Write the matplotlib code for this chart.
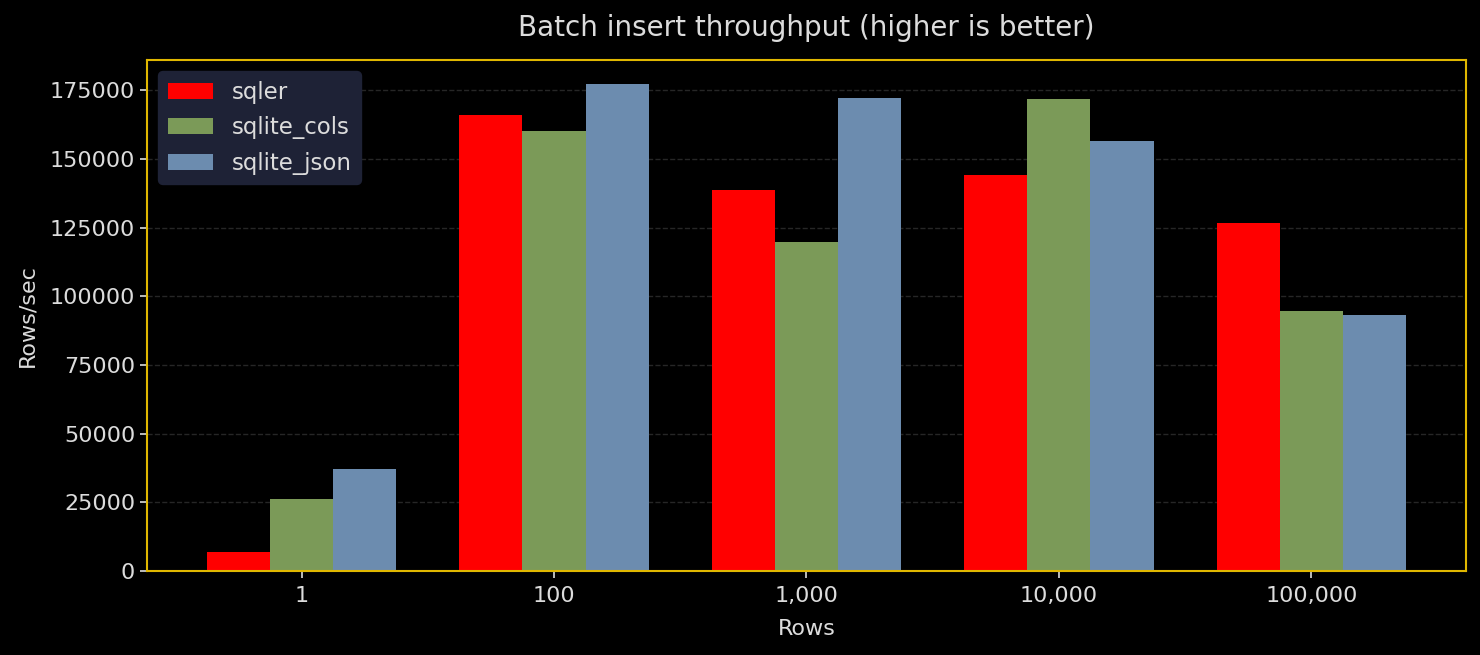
import matplotlib
matplotlib.use("Agg")
import matplotlib.pyplot as plt
import numpy as np

# batch sizes and measured throughput (rows/sec)
rows = ["1", "100", "1,000", "10,000", "100,000"]
series = ["sqler", "sqlite_cols", "sqlite_json"]
sqler = [7000, 165900, 138600, 144100, 126600]
sqlite_cols = [26200, 160100, 119700, 171700, 94600]
sqlite_json = [37100, 177200, 172100, 156400, 93100]
colors = ["#ff0000", "#7b9a58", "#6c8caf"]

txt = "#dcdcdc"
gold = "#e0b700"

fig, ax = plt.subplots(figsize=(14.8, 6.55), dpi=100)
fig.patch.set_facecolor("black")
ax.set_facecolor("black")

x = np.arange(len(rows))
w = 0.25
for i, (name, vals) in enumerate(zip(series, [sqler, sqlite_cols, sqlite_json])):
    ax.bar(x + (i - 1) * w, vals, w, label=name, color=colors[i], zorder=2)

ax.set_xticks(x)
ax.set_xticklabels(rows)
ax.tick_params(colors=txt, labelsize=16, length=5, width=1.2)
ax.tick_params(axis="x", pad=6)
ax.grid(axis="y", linestyle="--", color="#262626", linewidth=1, zorder=0)
for s in ax.spines.values():
    s.set_color(gold)
    s.set_linewidth(1.5)

ax.set_title("Batch insert throughput (higher is better)", color=txt, fontsize=20, pad=17)
ax.set_xlabel("Rows", color=txt, fontsize=16, labelpad=9)
ax.set_ylabel("Rows/sec", color=txt, fontsize=16, labelpad=9)

leg = ax.legend(loc="upper left", fontsize=16.5, facecolor="#1e2236", edgecolor="#1e2236",
                framealpha=1, labelcolor=txt, labelspacing=0.55)

plt.subplots_adjust(left=0.0993, right=0.9905, top=0.9084, bottom=0.1282)
plt.savefig("out.png", dpi=100, facecolor=fig.get_facecolor())
